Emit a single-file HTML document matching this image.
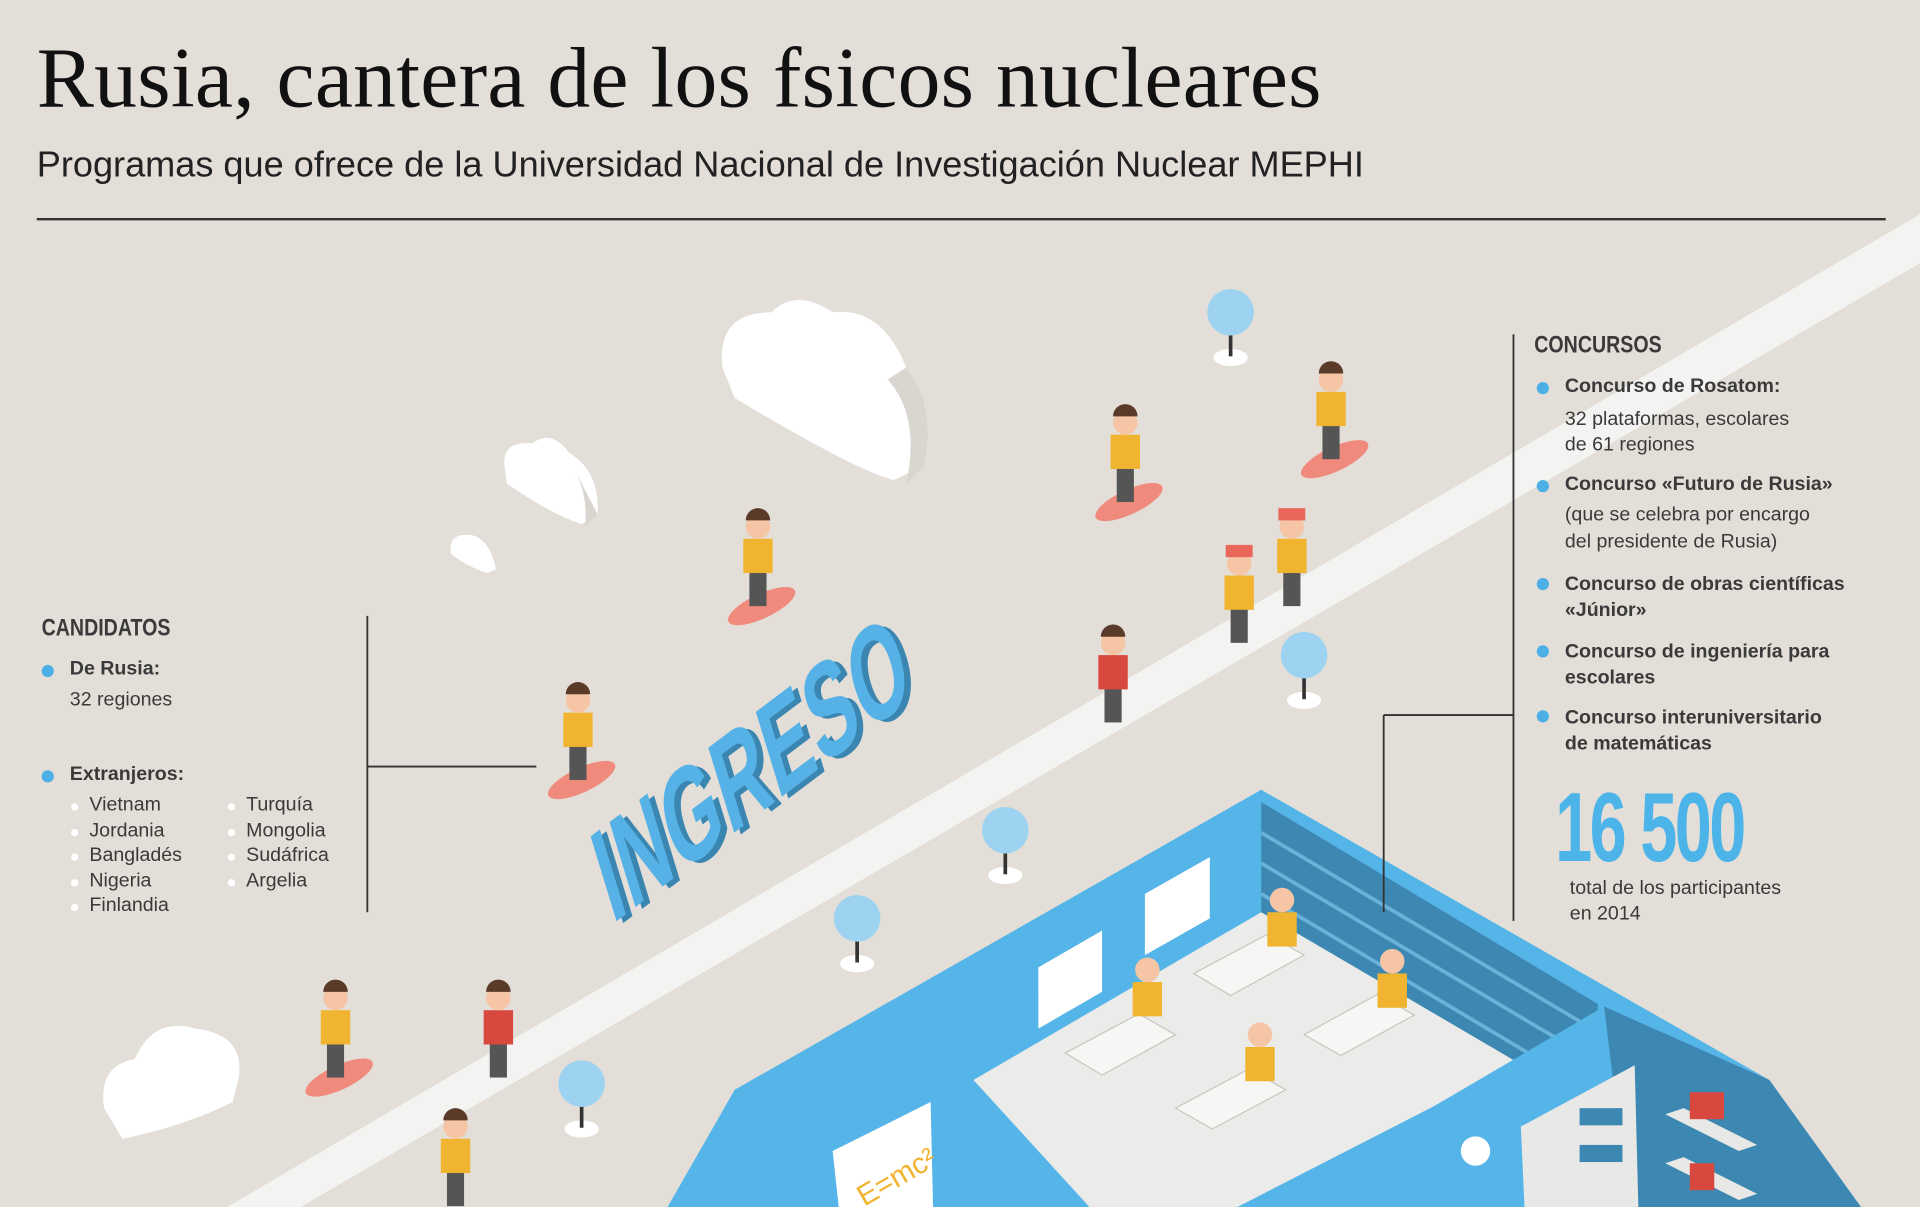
<!DOCTYPE html>
<html><head><meta charset="utf-8"><style>
html,body{margin:0;padding:0;width:1920px;height:1207px;overflow:hidden;background:#e3dfd8}
#w{position:absolute;left:0;top:0;width:1568px;height:986px;transform:scale(1.22449);transform-origin:0 0;font-family:"Liberation Sans",sans-serif;color:#333}
.t{position:absolute;white-space:nowrap}
.h{font-family:"Liberation Sans Narrow","Liberation Sans",sans-serif;font-weight:bold;font-size:20px;color:#3a3a3a;transform:scaleX(.8);transform-origin:0 0}
.b{font-weight:bold;font-size:16px;color:#3a3a3a}
.n{font-size:16px;color:#3a3a3a}
.dot{position:absolute;width:10px;height:10px;border-radius:50%;background:#4cb0e6}
.wd{position:absolute;width:6px;height:6px;border-radius:50%;background:#fff}
</style></head><body><div id="w">
<svg width="1568" height="986" style="position:absolute;left:0;top:0">
<line x1="30" y1="179" x2="1540" y2="179" stroke="#333" stroke-width="2"/>
<polygon points="1568,175 1568,215 245,986 185,986" fill="#f3f3f1"/>
<g fill="#fff"><path d="M590,300 Q585,255 630,255 Q650,235 680,255 Q720,250 740,300 Q765,330 755,380 L730,392 Q700,385 600,325 Z"/>
<path d="M412,380 Q410,360 435,362 Q450,350 465,370 Q490,385 488,420 L475,428 Q450,420 414,395Z"/>
<path d="M368,448 Q368,435 385,437 Q400,440 405,465 L398,468 Q380,462 368,452Z"/>
<path d="M85,905 Q80,870 110,865 Q125,830 160,840 Q200,845 195,880 L190,900 Q150,920 100,930Z"/></g>
<g fill="#d9d6d0"><path d="M740,300 Q765,330 755,380 L740,395 Q752,340 725,310Z"/><path d="M488,420 L478,430 Q480,405 470,385Z"/></g>
<g><g transform="translate(1005,255)"><ellipse cx="0" cy="37" rx="14" ry="7" fill="#fff"/><line x1="0" y1="10" x2="0" y2="36" stroke="#333" stroke-width="3"/><circle r="19" fill="#9dd3f1"/></g>
<g transform="translate(1065,535)"><ellipse cx="0" cy="37" rx="14" ry="7" fill="#fff"/><line x1="0" y1="10" x2="0" y2="36" stroke="#333" stroke-width="3"/><circle r="19" fill="#9dd3f1"/></g>
<g transform="translate(821,678)"><ellipse cx="0" cy="37" rx="14" ry="7" fill="#fff"/><line x1="0" y1="10" x2="0" y2="36" stroke="#333" stroke-width="3"/><circle r="19" fill="#9dd3f1"/></g>
<g transform="translate(700,750)"><ellipse cx="0" cy="37" rx="14" ry="7" fill="#fff"/><line x1="0" y1="10" x2="0" y2="36" stroke="#333" stroke-width="3"/><circle r="19" fill="#9dd3f1"/></g>
<g transform="translate(475,885)"><ellipse cx="0" cy="37" rx="14" ry="7" fill="#fff"/><line x1="0" y1="10" x2="0" y2="36" stroke="#333" stroke-width="3"/><circle r="19" fill="#9dd3f1"/></g></g>
<polygon points="1030,645 1445,882 1520,986 545,986 600,890" fill="#56b5e8"/>
<polygon points="1030,655 1030,760 1300,915 1305,820" fill="#3d88b2"/>
<g stroke="#6ab2d8" stroke-width="3"><line x1="1030" y1="680" x2="1300" y2="840"/><line x1="1030" y1="705" x2="1295" y2="862"/><line x1="1030" y1="730" x2="1290" y2="885"/></g>
<polygon points="795,882 1030,745 1240,868 1010,986 890,986" fill="#ebebea"/>
<polygon points="1030,986 1310,822 1330,830 1330,986" fill="#56b5e8"/>
<polygon points="1310,822 1445,882 1520,986 1330,986" fill="#3d88b2"/>
<polygon points="848,790 900,760 900,810 848,840" fill="#fff"/>
<polygon points="935,730 988,700 988,750 935,780" fill="#fff"/>
<polygon points="680,940 760,900 762,986 685,986" fill="#fff"/>
<text x="695" y="975" font-size="24" fill="#f0b430" transform="rotate(-30 720 960)" font-family="Liberation Sans">E=mc²</text>
<polygon points="1242,920 1335,870 1338,986 1245,986" fill="#e8e8e6"/>
<g fill="#3d88b2"><rect x="1290" y="905" width="35" height="14"/><rect x="1290" y="935" width="35" height="14"/></g>
<circle cx="1205" cy="940" r="12" fill="#fff"/>
<g fill="#e8e8e6"><polygon points="1360,910 1420,940 1435,935 1375,905"/><polygon points="1360,950 1420,980 1435,975 1375,945"/></g>
<g fill="#d9483e"><rect x="1380" y="892" width="28" height="22"/><rect x="1380" y="950" width="20" height="22"/></g>
<g fill="#f6f6f5" stroke="#c8c6c2"><polygon points="870,860 930,828 960,845 900,878"/><polygon points="975,795 1035,763 1065,780 1005,813"/><polygon points="1065,845 1125,812 1155,829 1095,862"/><polygon points="960,905 1020,873 1050,890 990,922"/></g>
<g id="figs">
<g transform="translate(612,470)"><ellipse cx="10" cy="25" rx="30" ry="10" fill="#f08a7c" transform="rotate(-25 10 25)"/><rect x="0" y="-5" width="14" height="30" fill="#555"/><rect x="-5" y="-30" width="24" height="28" fill="#f0b430"/><circle cx="7" cy="-40" r="10" fill="#f5c5a5"/><path d="M-3,-45 a10,10 0 0 1 20,0z" fill="#5a3a28"/></g>
<g transform="translate(912,385)"><ellipse cx="10" cy="25" rx="30" ry="10" fill="#f08a7c" transform="rotate(-25 10 25)"/><rect x="0" y="-5" width="14" height="30" fill="#555"/><rect x="-5" y="-30" width="24" height="28" fill="#f0b430"/><circle cx="7" cy="-40" r="10" fill="#f5c5a5"/><path d="M-3,-45 a10,10 0 0 1 20,0z" fill="#5a3a28"/></g>
<g transform="translate(1080,350)"><ellipse cx="10" cy="25" rx="30" ry="10" fill="#f08a7c" transform="rotate(-25 10 25)"/><rect x="0" y="-5" width="14" height="30" fill="#555"/><rect x="-5" y="-30" width="24" height="28" fill="#f0b430"/><circle cx="7" cy="-40" r="10" fill="#f5c5a5"/><path d="M-3,-45 a10,10 0 0 1 20,0z" fill="#5a3a28"/></g>
<g transform="translate(465,612)"><ellipse cx="10" cy="25" rx="30" ry="10" fill="#f08a7c" transform="rotate(-25 10 25)"/><rect x="0" y="-5" width="14" height="30" fill="#555"/><rect x="-5" y="-30" width="24" height="28" fill="#f0b430"/><circle cx="7" cy="-40" r="10" fill="#f5c5a5"/><path d="M-3,-45 a10,10 0 0 1 20,0z" fill="#5a3a28"/></g>
<g transform="translate(267,855)"><ellipse cx="10" cy="25" rx="30" ry="10" fill="#f08a7c" transform="rotate(-25 10 25)"/><rect x="0" y="-5" width="14" height="30" fill="#555"/><rect x="-5" y="-30" width="24" height="28" fill="#f0b430"/><circle cx="7" cy="-40" r="10" fill="#f5c5a5"/><path d="M-3,-45 a10,10 0 0 1 20,0z" fill="#5a3a28"/></g>
<g transform="translate(365,960)"><rect x="0" y="-5" width="14" height="30" fill="#555"/><rect x="-5" y="-30" width="24" height="28" fill="#f0b430"/><circle cx="7" cy="-40" r="10" fill="#f5c5a5"/><path d="M-3,-45 a10,10 0 0 1 20,0z" fill="#5a3a28"/></g>
<g transform="translate(400,855)"><rect x="0" y="-5" width="14" height="30" fill="#555"/><rect x="-5" y="-30" width="24" height="28" fill="#d9483e"/><circle cx="7" cy="-40" r="10" fill="#f5c5a5"/><path d="M-3,-45 a10,10 0 0 1 20,0z" fill="#5a3a28"/></g>
<g transform="translate(902,565)"><rect x="0" y="-5" width="14" height="30" fill="#555"/><rect x="-5" y="-30" width="24" height="28" fill="#d9483e"/><circle cx="7" cy="-40" r="10" fill="#f5c5a5"/><path d="M-3,-45 a10,10 0 0 1 20,0z" fill="#5a3a28"/></g>
<g transform="translate(1005,500)"><rect x="0" y="-5" width="14" height="30" fill="#555"/><rect x="-5" y="-30" width="24" height="28" fill="#f0b430"/><circle cx="7" cy="-40" r="10" fill="#f5c5a5"/><rect x="-4" y="-55" width="22" height="10" fill="#e8675a"/></g>
<g transform="translate(1048,470)"><rect x="0" y="-5" width="14" height="30" fill="#555"/><rect x="-5" y="-30" width="24" height="28" fill="#f0b430"/><circle cx="7" cy="-40" r="10" fill="#f5c5a5"/><rect x="-4" y="-55" width="22" height="10" fill="#e8675a"/></g>
<g transform="translate(1040,775)"><rect x="-5" y="-30" width="24" height="28" fill="#f0b430"/><circle cx="7" cy="-40" r="10" fill="#f5c5a5"/></g>
<g transform="translate(930,832)"><rect x="-5" y="-30" width="24" height="28" fill="#f0b430"/><circle cx="7" cy="-40" r="10" fill="#f5c5a5"/></g>
<g transform="translate(1130,825)"><rect x="-5" y="-30" width="24" height="28" fill="#f0b430"/><circle cx="7" cy="-40" r="10" fill="#f5c5a5"/></g>
<g transform="translate(1022,885)"><rect x="-5" y="-30" width="24" height="28" fill="#f0b430"/><circle cx="7" cy="-40" r="10" fill="#f5c5a5"/></g>
</g>
<g transform="translate(500,755) rotate(-37) skewX(-20) scale(1,1.5)">
<text x="5" y="3" font-family="Liberation Sans Narrow,Liberation Sans,sans-serif" font-weight="bold" font-size="66" fill="#3b86b0" letter-spacing="1">INGRESO</text>
<text x="0" y="0" font-family="Liberation Sans Narrow,Liberation Sans,sans-serif" font-weight="bold" font-size="66" fill="#56b2e6" letter-spacing="1">INGRESO</text>
</g>
<g stroke="#333" stroke-width="1.5" fill="none">
<line x1="300" y1="503" x2="300" y2="745"/><line x1="300" y1="626" x2="438" y2="626"/>
<line x1="1236" y1="273" x2="1236" y2="752"/><line x1="1130" y1="584" x2="1236" y2="584"/><line x1="1130" y1="584" x2="1130" y2="745"/>
</g>
</svg>
<div class="t" style="left:30px;top:30px;line-height:1;font-family:'Liberation Serif',serif;font-size:70px;color:#111;letter-spacing:0.2px">Rusia, cantera de los fsicos nucleares</div>
<div class="t" style="left:30px;top:118px;font-size:29.5px;color:#222">Programas que ofrece de la Universidad Nacional de Investigación Nuclear MEPHI</div>

<div class="t h" style="left:34px;top:502px">CANDIDATOS</div>
<div class="dot" style="left:34px;top:543px"></div><div class="t b" style="left:57px;top:538px">De Rusia:</div>
<div class="t n" style="left:57px;top:563px">32 regiones</div>
<div class="dot" style="left:34px;top:629px"></div><div class="t b" style="left:57px;top:624px">Extranjeros:</div>
<div class="wd" style="left:58px;top:656px"></div><div class="t n" style="left:73px;top:649px">Vietnam</div>
<div class="wd" style="left:58px;top:677px"></div><div class="t n" style="left:73px;top:670px">Jordania</div>
<div class="wd" style="left:58px;top:697px"></div><div class="t n" style="left:73px;top:690px">Bangladés</div>
<div class="wd" style="left:58px;top:718px"></div><div class="t n" style="left:73px;top:711px">Nigeria</div>
<div class="wd" style="left:58px;top:738px"></div><div class="t n" style="left:73px;top:731px">Finlandia</div>
<div class="wd" style="left:186px;top:656px"></div><div class="t n" style="left:201px;top:649px">Turquía</div>
<div class="wd" style="left:186px;top:677px"></div><div class="t n" style="left:201px;top:670px">Mongolia</div>
<div class="wd" style="left:186px;top:697px"></div><div class="t n" style="left:201px;top:690px">Sudáfrica</div>
<div class="wd" style="left:186px;top:718px"></div><div class="t n" style="left:201px;top:711px">Argelia</div>

<div class="t h" style="left:1253px;top:271px">CONCURSOS</div>
<div class="dot" style="left:1255px;top:312px"></div><div class="t b" style="left:1278px;top:307px">Concurso de Rosatom:</div>
<div class="t n" style="left:1278px;top:332px;line-height:21px">32 plataformas, escolares<br>de 61 regiones</div>
<div class="dot" style="left:1255px;top:392px"></div><div class="t b" style="left:1278px;top:387px">Concurso «Futuro de Rusia»</div>
<div class="t n" style="left:1278px;top:410px;line-height:22px">(que se celebra por encargo<br>del presidente de Rusia)</div>
<div class="dot" style="left:1255px;top:472px"></div><div class="t b" style="left:1278px;top:467px;line-height:21px">Concurso de obras científicas<br>«Júnior»</div>
<div class="dot" style="left:1255px;top:527px"></div><div class="t b" style="left:1278px;top:522px;line-height:21px">Concurso de ingeniería para<br>escolares</div>
<div class="dot" style="left:1255px;top:580px"></div><div class="t b" style="left:1278px;top:576px;line-height:21px">Concurso interuniversitario<br>de matemáticas</div>
<div class="t" style="left:1270px;top:630px;font-family:'Liberation Sans Narrow','Liberation Sans',sans-serif;font-weight:bold;font-size:80px;color:#4cb4e8;letter-spacing:-3px;transform:scaleX(.68);transform-origin:0 0">16 500</div>
<div class="t n" style="left:1282px;top:715px;line-height:21px">total de los participantes<br>en 2014</div>
</div></body></html>
